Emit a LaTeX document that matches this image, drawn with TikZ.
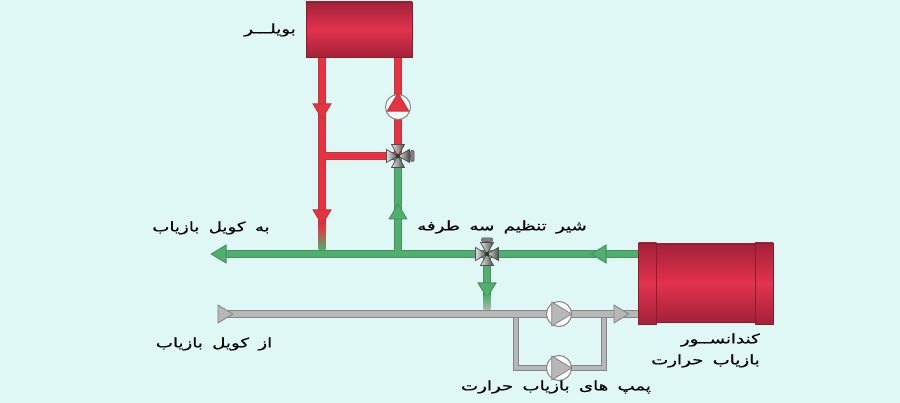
\documentclass[tikz,border=0pt]{standalone}
\usepackage{fontspec}
\usetikzlibrary{shapes.geometric,backgrounds}
\newfontfamily\arabicfont[Script=Arabic,FakeStretch=1.4,WordSpace=1.6,FakeBold=0.4]{DejaVu Sans}
\TeXXeTstate=1
\definecolor{bgcol}{HTML}{DFF7F5}
\definecolor{tankdark}{HTML}{A32238}
\definecolor{tanklight}{HTML}{E2324F}
\definecolor{redpipe}{HTML}{E8323F}
\definecolor{redline}{HTML}{B8383F}
\definecolor{greenpipe}{HTML}{4DB06C}
\definecolor{greenline}{HTML}{4F8A62}
\definecolor{greypipe}{HTML}{B7B7B7}
\definecolor{greyline}{HTML}{858585}
\definecolor{fademid}{HTML}{B89A45}
\tikzset{
  tank/.style={shape=rectangle, draw=tankdark!85!black, line width=0.8pt, inner sep=0pt,
    top color=tankdark, bottom color=tankdark, middle color=tanklight},
  pipe/.style={line width=1.2pt, double distance=5.2pt, line join=miter},
  pipered/.style={pipe, draw=redline, double=redpipe},
  pipegreen/.style={pipe, draw=greenline, double=greenpipe},
  pipegrey/.style={pipe, draw=greyline, double=greypipe},
  pipethin/.style={pipegrey, double distance=3.6pt},
  flowtri/.style={shape=isosceles triangle, isosceles triangle apex angle=62, inner sep=0pt,
    minimum height=15pt, line width=0.8pt},
  flowred/.style={flowtri, draw=redline, fill=redpipe},
  flowgreen/.style={flowtri, draw=greenline, fill=greenpipe},
  flowgrey/.style={flowtri, draw=greyline, fill=greypipe},
  pumptri/.style={minimum height=20pt},
  pumpbody/.style={shape=circle, draw=greyline, fill=white, line width=1pt,
    minimum size=25pt, inner sep=0pt},
  junction/.style={shape=circle, minimum size=18pt, inner sep=0pt},
  fade/.style={shape=rectangle, inner sep=0pt, minimum width=7pt},
  label/.style={font=\arabicfont\fontsize{13}{15}\selectfont, align=center, text=black, inner sep=0pt},
  valve/.pic={
    \draw[black!60, line width=1.4pt] (0,0) -- (14,0);
    \fill[black!50, draw=black!70, line width=0.5pt, rounded corners=1pt] (12.5,-5.5) rectangle (16,5.5);
    \foreach \ang in {0,90,180,270} {
      \fill[rotate=\ang, draw=black!70, line width=0.6pt, left color=black!12, right color=black!70]
        (0,0) -- (11.5,-6.5) -- (11.5,6.5) -- cycle;
    }
    \fill[black!80] (0,0) circle (2.2);
  }
}
\begin{document}
\begin{tikzpicture}[x=1pt, y=-1pt]
  \useasboundingbox (0,0) rectangle (900,403);
  % tanks
  \node[tank, minimum width=106pt, minimum height=55pt] (boiler) at (359,29.5) {};
  \node[tank, minimum width=100pt, minimum height=78pt] (condbody) at (705.5,283) {};
  \node[tank, minimum width=18pt, minimum height=81pt] (condleft) at (647.5,283.5) {};
  \node[tank, minimum width=18pt, minimum height=81pt] (condright) at (764,283.5) {};
  % pumps
  \node[pumpbody] (pumphot) at (398,107) {};
  \node[pumpbody] (pumpmain) at (559,314) {};
  \node[pumpbody] (pumpspare) at (559,368) {};
  \node[flowred, pumptri, minimum height=18pt, shape border rotate=90] (pumphottri) at (398,105) {};
  \node[flowgrey, pumptri, shape border rotate=0] (pumpmaintri) at (558.5,314) {};
  \node[flowgrey, pumptri, shape border rotate=0] (pumpsparetri) at (558.5,368) {};
  % valves
  \node[junction] (valvetop) at (398,156) {};
  \node[junction] (valvemid) at (487,254) {};
  \pic[rotate=0] at (valvetop) {valve};
  \pic[rotate=90] at (valvemid) {valve};
  % flow arrows
  \node[flowred, shape border rotate=270] (hotone) at (322,109) {};
  \node[flowred, shape border rotate=270] (hottwo) at (322,215) {};
  \node[flowgreen, shape border rotate=90] (riser) at (398,214) {};
  \node[flowgreen, shape border rotate=180] (outlet) at (221,254) {};
  \node[flowgreen, shape border rotate=180] (fromcond) at (601,254) {};
  \node[flowgreen, shape border rotate=270] (drop) at (487,288) {};
  \node[flowgrey, shape border rotate=0] (inlet) at (223,314) {};
  \node[flowgrey, shape border rotate=0] (tocond) at (619,314) {};
  % colour changes
  \node[fade, top color=redpipe, middle color=fademid, bottom color=greenpipe, minimum height=24pt] (fadehot) at (322,238) {};
  \node[fade, top color=greenpipe, bottom color=greypipe, minimum height=14pt] (fadecold) at (487,303) {};
  % junction points
  \coordinate (boilerleft) at (322,57);
  \coordinate (boilerright) at (398,57);
  \coordinate (teehot) at (322,156);
  \coordinate (teeriser) at (398,254);
  \coordinate (teecold) at (322,254);
  \coordinate (condout) at (639,254);
  \coordinate (condin) at (639,314);
  \coordinate (teedrop) at (487,314);
  \coordinate (bypassa) at (516,314);
  \coordinate (bypassb) at (516,368);
  \coordinate (bypassc) at (604,368);
  \coordinate (bypassd) at (604,314);
  \begin{scope}[on background layer]
    \fill[bgcol] (0,0) rectangle (900,403);
    \draw[pipethin] (bypassa) -- (bypassb) -- (bypassc) -- (bypassd);
    \draw[pipegrey] (inlet.center) -- (condin);
    \draw[pipered] (boilerleft) -- (fadehot.north) (teehot) -- (valvetop.center) (boilerright) -- (valvetop.center);
    \draw[pipegreen] (outlet.center) -- (condout) (valvetop.center) -- (teeriser) (valvemid.center) -- (fadecold.north);
  \end{scope}
  % labels
  \node[label] (txtboiler) at (270,30) {\beginR بویلـــر\endR};
  \node[label] (txtto) at (211,228) {\beginR به کویل بازیاب\endR};
  \node[label] (txtvalve) at (502,227) {\beginR شیر تنظیم سه طرفه\endR};
  \node[label] (txtfrom) at (214,344) {\beginR از کویل بازیاب\endR};
  \node[label] (txtpumps) at (556,387) {\beginR پمپ های بازیاب حرارت\endR};
  \node[label, anchor=east] (txtcond) at (760,340) {\beginR کندانســور\endR};
  \node[label, anchor=east] (txtrecov) at (760,361) {\beginR بازیاب حرارت\endR};
\end{tikzpicture}
\end{document}
